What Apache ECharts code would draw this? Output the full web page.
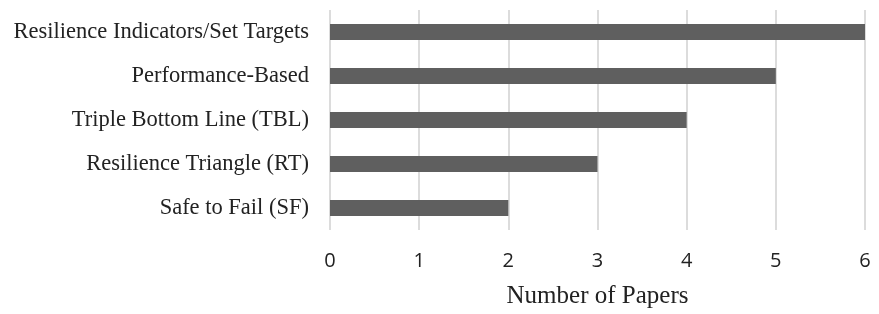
<!DOCTYPE html>
<html>
<head>
<meta charset="utf-8">
<script src="https://cdn.jsdelivr.net/npm/echarts@6/dist/echarts.min.js"></script>
<style>
  html, body { margin: 0; padding: 0; background: #fff; }
  #chart { width: 879px; height: 314px; }
</style>
</head>
<body>
<div id="chart"></div>
<script>
// categories, bottom to top
var categories = ['Safe to Fail (SF)', 'Resilience Triangle (RT)', 'Triple Bottom Line (TBL)',
    'Performance-Based', 'Resilience Indicators/Set Targets'];
var papers = [2, 3, 4, 5, 6];
var xTicks = [0, 1, 2, 3, 4, 5, 6];

var myChart = echarts.init(document.getElementById('chart'));
var option = {
    animation: false,
    grid: { left: 330, right: 14, top: 10, bottom: 82 },
    xAxis: {
        type: 'value',
        min: xTicks[0],
        max: xTicks[xTicks.length - 1],
        interval: 1,
        name: 'Number of Papers',
        nameLocation: 'middle',
        nameGap: 54,
        nameTextStyle: { fontFamily: 'Liberation Serif', fontSize: 25, color: '#222' },
        axisLine: { show: false },
        axisTick: { show: false },
        axisLabel: { fontFamily: 'Open Sans', fontSize: 20, color: '#222', margin: 21 },
        splitLine: { lineStyle: { color: '#dcdcdc', width: 2 } }
    },
    yAxis: {
        type: 'category',
        data: categories,
        axisLine: { show: false },
        axisTick: { show: false },
        axisLabel: { fontFamily: 'Liberation Serif', fontSize: 22.5, color: '#222', margin: 21 }
    },
    series: [{
        type: 'bar',
        data: papers,
        barWidth: 16,
        itemStyle: { color: '#5f5f5f' }
    }]
};
myChart.setOption(option);
</script>
</body>
</html>
